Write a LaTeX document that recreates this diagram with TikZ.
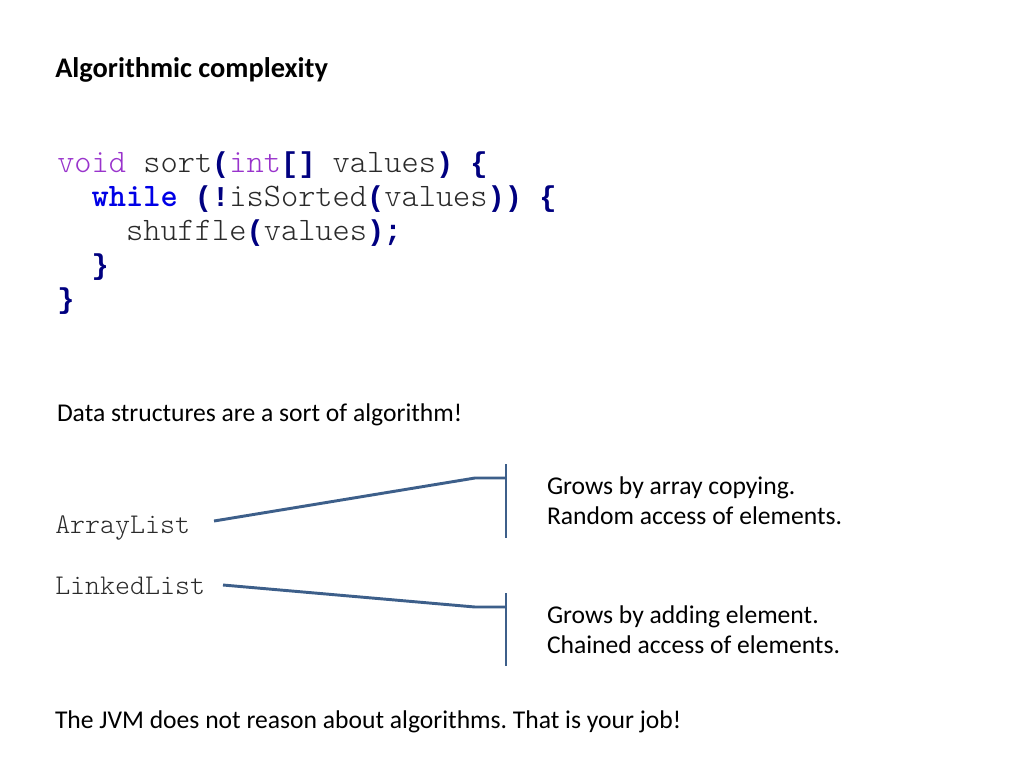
\documentclass[tikz,border=0pt]{standalone}
\usepackage{fontspec}
\setmainfont{Carlito}
\newfontfamily\codefont{lmmonolt10-regular.otf}[BoldFont=lmmonolt10-bold.otf]
\newfontfamily\pmono{Liberation Mono}
\definecolor{kwpurple}{HTML}{9933CC}
\definecolor{kwblue}{HTML}{0000E6}
\definecolor{navy}{HTML}{000080}
\definecolor{codegray}{HTML}{2A2A2A}
\definecolor{linkblue}{HTML}{3D5F8A}
\newcommand{\nv}[1]{{\pmono\fontsize{21.5}{28}\selectfont\bfseries\textcolor{navy}{#1}}}
\newcommand{\pk}[1]{\textcolor{kwpurple}{#1}}
\frenchspacing
\begin{document}
\begin{tikzpicture}[x=0.75pt,y=-0.75pt,
  txt/.style={anchor=base west,inner sep=0pt,outer sep=0pt,font=\fontsize{19.2}{23}\selectfont},
  title/.style={anchor=base west,inner sep=0pt,font=\fontsize{21.3}{25}\selectfont\bfseries},
  code/.style={anchor=base west,inner sep=0pt,font=\fontsize{24.6}{28}\selectfont\codefont,text=codegray},
  mono/.style={anchor=base west,inner sep=0pt,font=\fontsize{21.4}{25}\selectfont\codefont,text=codegray},
  conn/.style={draw=linkblue,line width=2.2pt}]
\useasboundingbox[fill=white] (0,0) rectangle (1024,768);
\node[title] (title) at (55,77) {Algorithmic complexity};
\node[code] (c1) at (57,172) {\pk{void} sort\nv{(}\pk{int}\nv{[]} values\nv{)} \nv{\{}};
\node[code] (c2) at (91.4,206) {\textbf{\textcolor{kwblue}{while}} \nv{(!}isSorted\nv{(}values\nv{))} \nv{\{}};
\node[code] (c3) at (125.8,240) {shuffle\nv{(}values\nv{);}};
\node[code] (c4) at (91.4,274) {\nv{\}}};
\node[code] (c5) at (57,308) {\nv{\}}};
\node[txt] (ds) at (57,421) {Data structures are a sort of algorithm!};
\node[mono] (al) at (55,533) {ArrayList};
\node[mono] (ll) at (55,594) {LinkedList};
\node[txt] (g1) at (547,494) {Grows by array copying.};
\node[txt] (r1) at (547,524) {Random access of elements.};
\node[txt] (g2) at (547,623) {Grows by adding element.};
\node[txt] (r2) at (547,653) {Chained access of elements.};
\node[txt] (jvm) at (55,728) {The JVM does not reason about algorithms. That is your job!};
\coordinate (a1) at (214,521);
\coordinate (a2) at (475,478);
\coordinate (a3) at (506,478);
\coordinate (b1t) at (506,464);
\coordinate (b1b) at (506,538);
\coordinate (l1) at (223,585);
\coordinate (l2) at (475,607);
\coordinate (l3) at (506,607);
\coordinate (b2t) at (506,593);
\coordinate (b2b) at (506,666);
\draw[conn] (a1) -- (a2) -- (a3);
\draw[conn] (b1t) -- (b1b);
\draw[conn] (l1) -- (l2) -- (l3);
\draw[conn] (b2t) -- (b2b);
\end{tikzpicture}
\end{document}
